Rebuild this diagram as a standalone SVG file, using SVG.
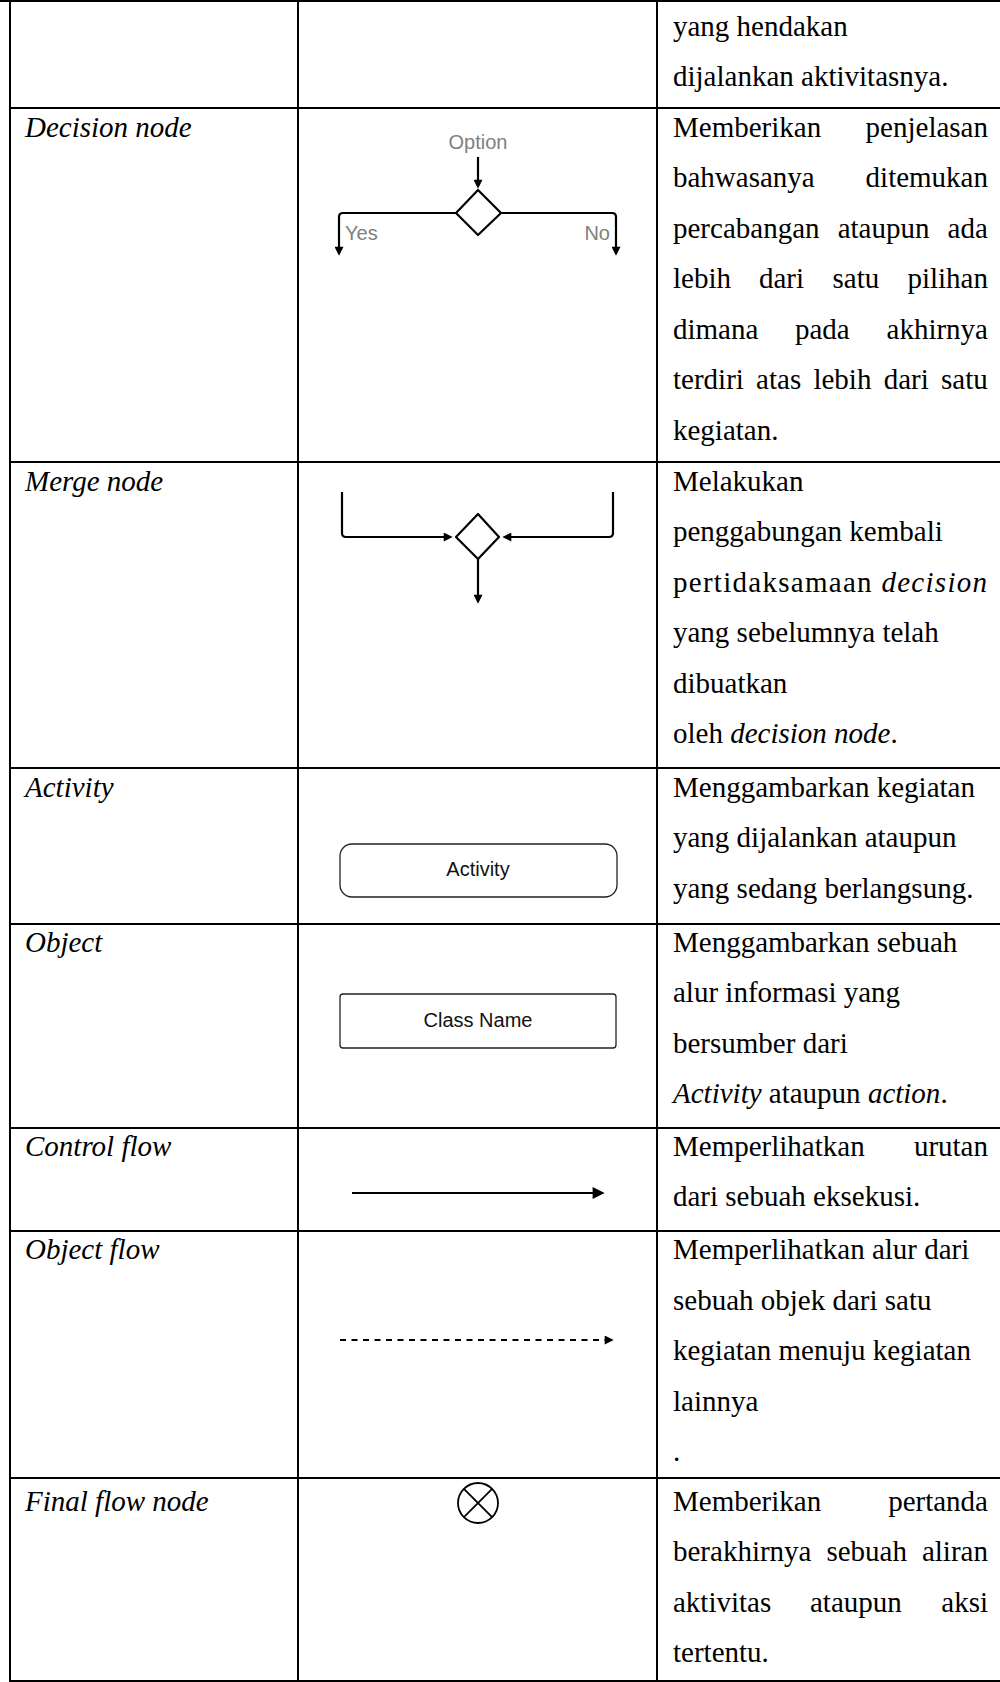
<svg xmlns="http://www.w3.org/2000/svg" width="1000" height="1682" viewBox="0 0 1000 1682">
<style>
.grid{stroke:#000;stroke-width:2;fill:none}
.t{font-family:"Liberation Serif","Times New Roman",serif;font-size:29px;fill:#000}
.i{font-style:italic}
.e{text-anchor:end}
.lbl{font-family:"Liberation Sans",Arial,sans-serif;font-size:20px;fill:#808080}
.sh{font-family:"Liberation Sans",Arial,sans-serif;font-size:20px;fill:#111;text-anchor:middle}
.ln{stroke:#000;stroke-width:2.2;fill:none;stroke-linejoin:round}
.box{stroke:#222;stroke-width:1.3;fill:#fff}
</style>
<defs>
<marker id="arr" viewBox="0 0 10 10" refX="7" refY="5" markerWidth="13" markerHeight="9" orient="auto" markerUnits="userSpaceOnUse"><path d="M0,0 L10,5 L0,10 z" fill="#000"/></marker>
<marker id="arrS" viewBox="0 0 10 10" refX="7" refY="5" markerWidth="14" markerHeight="12" orient="auto" markerUnits="userSpaceOnUse"><path d="M0,0 L10,5 L0,10 z" fill="#000"/></marker>
</defs>
<rect width="1000" height="1682" fill="#fff"/>
<g id="table">
<path class="grid" d="M0,1 H1000 M10,108 H1000 M10,462 H1000 M10,768 H1000 M10,924 H1000 M10,1128 H1000 M10,1231 H1000 M10,1478 H1000 M10,1681 H1000 M10,0 V1682 M298,0 V1682 M657,0 V1682"/>
</g>
<g id="row-continued">
<text class="t" x="673" y="36">yang hendakan</text>
<text class="t" x="673" y="86">dijalankan aktivitasnya.</text>
</g>
<g id="row-decision">
<text class="t i" x="25" y="137">Decision node</text>
<text class="t" x="673" y="137">Memberikan</text><text class="t e" x="988" y="137">penjelasan</text>
<text class="t" x="673" y="187">bahwasanya</text><text class="t e" x="988" y="187">ditemukan</text>
<text class="t" x="673" y="238" word-spacing="10.9">percabangan ataupun ada</text>
<text class="t" x="673" y="288">lebih</text><text class="t" x="759" y="288">dari</text><text class="t" x="832.5" y="288">satu</text><text class="t e" x="988" y="288">pilihan</text>
<text class="t" x="673" y="339">dimana</text><text class="t" x="795" y="339">pada</text><text class="t e" x="988" y="339">akhirnya</text>
<text class="t" x="673" y="389" word-spacing="5">terdiri atas lebih dari satu</text>
<text class="t" x="673" y="440">kegiatan.</text>
</g>
<g id="decision-node">
<text class="lbl" x="478" y="149" text-anchor="middle">Option</text>
<polygon class="ln" points="478,190 501,213 478,235 456,213" fill="#fff"/>
<text class="lbl" x="345" y="240">Yes</text>
<text class="lbl" x="610" y="240" text-anchor="end">No</text>
</g>
<g id="row-merge">
<text class="t i" x="25" y="491">Merge node</text>
<text class="t" x="673" y="491">Melakukan</text>
<text class="t" x="673" y="541">penggabungan kembali</text>
<text class="t" x="673" y="592" textLength="314" lengthAdjust="spacing">pertidaksamaan <tspan class="i">decision</tspan></text>
<text class="t" x="673" y="642">yang sebelumnya telah</text>
<text class="t" x="673" y="693">dibuatkan</text>
<text class="t" x="673" y="743">oleh <tspan class="i">decision node</tspan>.</text>
</g>
<g id="merge-node">
<polygon class="ln" points="478,514 499,537 478,559 456,537" fill="#fff"/>
</g>
<g id="row-activity">
<text class="t i" x="25" y="797">Activity</text>
<text class="t" x="673" y="797">Menggambarkan kegiatan</text>
<text class="t" x="673" y="847">yang dijalankan ataupun</text>
<text class="t" x="673" y="898">yang sedang berlangsung.</text>
</g>
<g id="activity-node">
<rect class="box" x="340" y="844" width="277" height="53" rx="12"/>
<text class="sh" x="478" y="876">Activity</text>
</g>
<g id="row-object">
<text class="t i" x="25" y="952">Object</text>
<text class="t" x="673" y="952">Menggambarkan sebuah</text>
<text class="t" x="673" y="1002">alur informasi yang</text>
<text class="t" x="673" y="1053">bersumber dari</text>
<text class="t" x="673" y="1103"><tspan class="i">Activity</tspan> ataupun <tspan class="i">action</tspan>.</text>
</g>
<g id="object-node">
<rect class="box" x="340" y="994" width="276" height="54" rx="3"/>
<text class="sh" x="478" y="1027">Class Name</text>
</g>
<g id="row-control">
<text class="t i" x="25" y="1156">Control flow</text>
<text class="t" x="673" y="1156">Memperlihatkan</text><text class="t e" x="988" y="1156">urutan</text>
<text class="t" x="673" y="1206">dari sebuah eksekusi.</text>
</g>
<g id="row-objectflow">
<text class="t i" x="25" y="1259">Object flow</text>
<text class="t" x="673" y="1259">Memperlihatkan alur dari</text>
<text class="t" x="673" y="1310">sebuah objek dari satu</text>
<text class="t" x="673" y="1360">kegiatan menuju kegiatan</text>
<text class="t" x="673" y="1411">lainnya</text>
<text class="t" x="673" y="1461">.</text>
</g>
<g id="row-final">
<text class="t i" x="25" y="1511">Final flow node</text>
<text class="t" x="673" y="1511">Memberikan</text><text class="t e" x="988" y="1511">pertanda</text>
<text class="t" x="673" y="1561" word-spacing="7.7">berakhirnya sebuah aliran</text>
<text class="t" x="673" y="1612">aktivitas</text><text class="t" x="810" y="1612">ataupun</text><text class="t e" x="988" y="1612">aksi</text>
<text class="t" x="673" y="1662">tertentu.</text>
</g>
<g id="final-flow-node">
<circle cx="478" cy="1503" r="20" fill="#fff" stroke="#000" stroke-width="1.8"/>
<path d="M463.9,1488.9 L492.1,1517.1 M492.1,1488.9 L463.9,1517.1" stroke="#000" stroke-width="1.8"/>
</g>
<g id="connectors">
<path class="ln" d="M478,157 V186" marker-end="url(#arr)"/>
<path class="ln" d="M456,213 H343 Q339,213 339,217 V253" marker-end="url(#arr)"/>
<path class="ln" d="M501,213 H612 Q616,213 616,217 V253" marker-end="url(#arr)"/>
<path class="ln" d="M342,492 V533 Q342,537 346,537 H450" marker-end="url(#arr)"/>
<path class="ln" d="M613,492 V533 Q613,537 609,537 H505" marker-end="url(#arr)"/>
<path class="ln" d="M478,559 V601" marker-end="url(#arr)"/>
<path d="M352,1193 H601" stroke="#000" stroke-width="1.8" marker-end="url(#arrS)"/>
<path d="M340,1340 H611" stroke="#000" stroke-width="2" stroke-dasharray="6,5.5" marker-end="url(#arr)"/>
</g>
</svg>
